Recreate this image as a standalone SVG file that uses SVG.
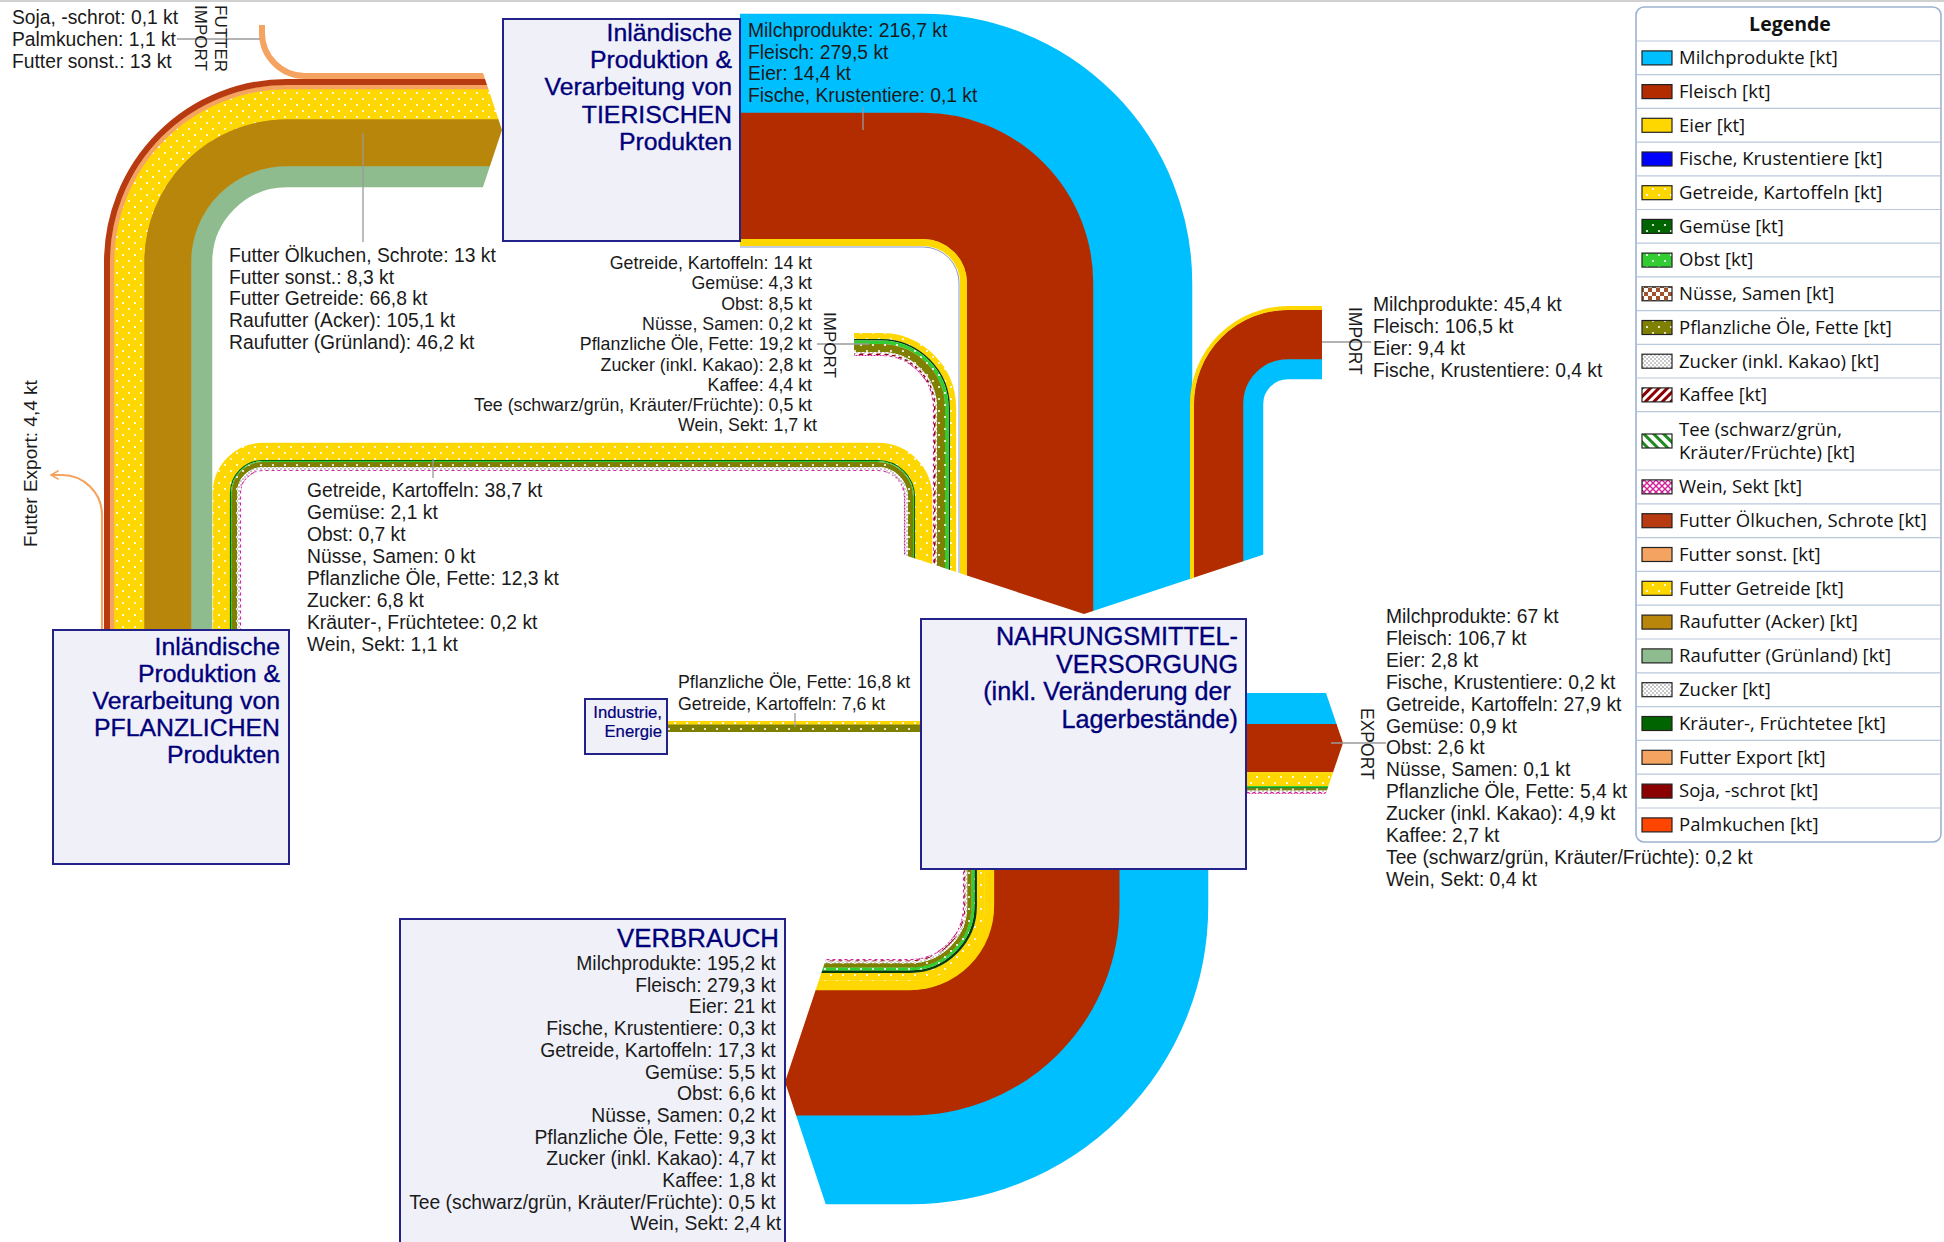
<svg xmlns="http://www.w3.org/2000/svg" width="1944" height="1242" viewBox="0 0 1944 1242">
<defs>
<style>
.lbl{font-family:"Liberation Sans",Arial,sans-serif;font-size:19.3px;fill:#1a1a1a}
.lbs{font-family:"Liberation Sans",Arial,sans-serif;font-size:17.8px;fill:#1a1a1a}
.ttl{font-family:"Liberation Sans",Arial,sans-serif;font-size:24.8px;fill:#00007a;stroke:#00007a;stroke-width:0.35}
.node{fill:#F0F0F8;stroke:#22228a;stroke-width:2}
.lead{stroke:#9a9a9a;stroke-width:1.3;fill:none}
.b{fill:none;stroke-linecap:butt}
.leg{font-family:"Open Sans","Noto Sans",sans-serif;font-size:18.5px;fill:#111}
.sw{stroke:#222;stroke-width:1.2}
.div{stroke:#b9c8dc;stroke-width:1.2}
</style>
<pattern id="pGetreide" width="12" height="12" patternUnits="userSpaceOnUse"><rect width="12" height="12" fill="#FFD700"/><circle cx="3" cy="3" r="1.1" fill="#fff"/><circle cx="9" cy="9" r="1.1" fill="#fff"/></pattern>
<pattern id="pOel" width="12" height="12" patternUnits="userSpaceOnUse"><rect width="12" height="12" fill="#808000"/><circle cx="3" cy="3" r="1.1" fill="#fff"/><circle cx="9" cy="9" r="1.1" fill="#fff"/></pattern>
<pattern id="pGemuese" width="12" height="12" patternUnits="userSpaceOnUse"><rect width="12" height="12" fill="#006400"/><circle cx="3" cy="3" r="1.1" fill="#fff"/><circle cx="9" cy="9" r="1.1" fill="#fff"/></pattern>
<pattern id="pObst" width="12" height="12" patternUnits="userSpaceOnUse"><rect width="12" height="12" fill="#32CD32"/><circle cx="3" cy="3" r="1.1" fill="#fff"/><circle cx="9" cy="9" r="1.1" fill="#fff"/></pattern>
<pattern id="pZucker" width="4" height="4" patternUnits="userSpaceOnUse"><rect width="4" height="4" fill="#fff"/><rect width="2" height="2" fill="#c8c8c8"/><rect x="2" y="2" width="2" height="2" fill="#c8c8c8"/></pattern>
<pattern id="pKaffee" width="6" height="6" patternUnits="userSpaceOnUse" patternTransform="rotate(45)"><rect width="6" height="6" fill="#fff"/><rect width="3" height="6" fill="#8B0000"/></pattern>
<pattern id="pTee" width="7" height="7" patternUnits="userSpaceOnUse" patternTransform="rotate(-45)"><rect width="7" height="7" fill="#fff"/><rect width="3" height="7" fill="#1E8B1E"/></pattern>
<pattern id="pWein" width="6" height="6" patternUnits="userSpaceOnUse"><rect width="6" height="6" fill="#fff"/><path d="M0 0L6 6M6 0L0 6" stroke="#D0209A" stroke-width="1.4"/></pattern>
<pattern id="pNuesse" width="8" height="8" patternUnits="userSpaceOnUse"><rect width="8" height="8" fill="#fff"/><rect width="4" height="4" fill="#A0522D"/><rect x="4" y="4" width="4" height="4" fill="#A0522D"/></pattern>
<clipPath id="cNahr"><polygon points="0,0 1944,0 1944,514 1386,514 1084,614 880,547 880,640 0,640"/></clipPath>
<clipPath id="cVerb"><polygon points="859,860 1300,860 1300,1242 838.3,1242 785,1082"/></clipPath>
<clipPath id="cFeed"><polygon points="0,0 458.7,0 502,130 445.3,300 445.3,700 0,700"/></clipPath>
<clipPath id="cExp"><polygon points="1240,680 1321.6,680 1343,743 1321.6,806 1240,806"/></clipPath>
<marker id="arrOpen" viewBox="0 0 10 10" refX="8" refY="5" markerWidth="5" markerHeight="5" orient="auto" markerUnits="strokeWidth"><path d="M1 1L8 5L1 9" fill="none" stroke="#F4A460" stroke-width="1.5"/></marker>
</defs>

<line x1="0" y1="1" x2="1944" y2="1" stroke="#d0d0d0" stroke-width="2"/>

<g id="connectors">
  <g clip-path="url(#cFeed)">
    <path class="b" d="M201.5 630V262A85.5 85.5 0 0 1 287 176.5H520" stroke="#8FBC8F" stroke-width="21.5"/>
    <path class="b" d="M167.5 630V262A119.5 119.5 0 0 1 287 142.5H520" stroke="#B8860B" stroke-width="47.5"/>
    <path class="b" d="M129 630V262A158 158 0 0 1 287 104H520" stroke="url(#pGetreide)" stroke-width="30.5"/>
    <path class="b" d="M112 630V262A175 175 0 0 1 287 87H520" stroke="#F4A460" stroke-width="4.5"/>
    <path class="b" d="M107 630V262A180 180 0 0 1 287 82H520" stroke="#B83A10" stroke-width="6"/>
    <path class="b" d="M262 25V33A43 43 0 0 0 305 76H520" stroke="#F4A460" stroke-width="6"/>
  </g>
  <path d="M102 630V515A40 40 0 0 0 62 475H51" fill="none" stroke="#F4A460" stroke-width="2.2" marker-end="url(#arrOpen)"/>

  <g clip-path="url(#cNahr)">
    <path class="b" d="M221.5 630V493A41.5 41.5 0 0 1 263 451.5H878A45.5 45.5 0 0 1 923.5 497V640" stroke="url(#pGetreide)" stroke-width="17.5"/>
    <path class="b" d="M230.5 630V493A32.5 32.5 0 0 1 263 460.5H878A36.5 36.5 0 0 1 914.5 497V640" stroke="#006400" stroke-width="1.2"/>
    <path class="b" d="M231.5 630V493A31.5 31.5 0 0 1 263 461.5H878A35.5 35.5 0 0 1 913.5 497V640" stroke="#32CD32" stroke-width="1"/>
    <path class="b" d="M234.5 630V493A28.5 28.5 0 0 1 263 464.5H878A32.5 32.5 0 0 1 910.5 497V640" stroke="url(#pOel)" stroke-width="5.2"/>
    <path class="b" d="M238.5 630V493A24.5 24.5 0 0 1 263 468.5H878A28.5 28.5 0 0 1 906.5 497V640" stroke="url(#pZucker)" stroke-width="3"/>
    <path class="b" d="M240.5 630V493A22.5 22.5 0 0 1 263 470.5H878A26.5 26.5 0 0 1 904.5 497V640" stroke="url(#pWein)" stroke-width="1.2"/>
    <path class="b" d="M854 336H881A72 72 0 0 1 953 408V640" stroke="url(#pGetreide)" stroke-width="6.2"/>
    <path class="b" d="M854 339.75H881A68.25 68.25 0 0 1 949.25 408V640" stroke="#0a3a0a" stroke-width="1.5"/>
    <path class="b" d="M854 342.25H881A65.75 65.75 0 0 1 946.75 408V640" stroke="url(#pObst)" stroke-width="3.6"/>
    <path class="b" d="M854 348H881A60 60 0 0 1 941 408V640" stroke="url(#pOel)" stroke-width="8.2"/>
    <path class="b" d="M854 352.75H881A55.25 55.25 0 0 1 936.25 408V640" stroke="url(#pZucker)" stroke-width="1.6"/>
    <path class="b" d="M854 354.25H881A53.75 53.75 0 0 1 934.75 408V640" stroke="url(#pKaffee)" stroke-width="1.6"/>
    <path class="b" d="M854 355.5H881A52.5 52.5 0 0 1 933.5 408V640" stroke="url(#pWein)" stroke-width="1.2"/>
    <path class="b" d="M740 63.5H923A219.5 219.5 0 0 1 1142.5 283V640" stroke="#00BFFF" stroke-width="99.5"/>
    <path class="b" d="M740 176H923A107 107 0 0 1 1030 283V640" stroke="#B22C00" stroke-width="126.5"/>
    <path class="b" d="M740 242.5H923A40.5 40.5 0 0 1 963.5 283V640" stroke="#FFD700" stroke-width="7"/>
    <path class="b" d="M740 247H923A36 36 0 0 1 959 283V640" stroke="#8a9ac8" stroke-width="1"/>
    <path class="b" d="M1322 369H1288A35 35 0 0 0 1253 404V640" stroke="#00BFFF" stroke-width="20.5"/>
    <path class="b" d="M1322 334.5H1288A69.5 69.5 0 0 0 1218.5 404V640" stroke="#B22C00" stroke-width="49.5"/>
    <path class="b" d="M1322 308H1288A96 96 0 0 0 1192 404V640" stroke="#FFD700" stroke-width="4"/>
  </g>

  <rect x="667" y="721" width="254" height="3.8" fill="url(#pGetreide)"/>
  <rect x="667" y="724.5" width="254" height="7.5" fill="url(#pOel)"/>

  <g clip-path="url(#cExp)">
    <rect x="1246" y="693" width="110" height="31.5" fill="#00BFFF"/>
    <rect x="1246" y="724" width="110" height="48.5" fill="#B22C00"/>
    <rect x="1246" y="772" width="110" height="1.8" fill="#FFD700"/>
    <rect x="1246" y="773.5" width="110" height="12.8" fill="url(#pGetreide)"/>
    <rect x="1246" y="786" width="110" height="2.6" fill="#32CD32"/>
    <rect x="1246" y="787.6" width="110" height="0.9" fill="#0a3a0a"/>
    <rect x="1246" y="788.5" width="110" height="2.2" fill="url(#pOel)"/>
    <rect x="1246" y="790.5" width="110" height="1.7" fill="url(#pZucker)"/>
    <rect x="1246" y="792" width="110" height="1.8" fill="url(#pWein)"/>
  </g>

  <g clip-path="url(#cVerb)">
    <path class="b" d="M1163.5 869V906A253.5 253.5 0 0 1 910 1159.5H770" stroke="#00BFFF" stroke-width="89.5"/>
    <path class="b" d="M1056.5 869V906A146.5 146.5 0 0 1 910 1052.5H770" stroke="#B22C00" stroke-width="126"/>
    <path class="b" d="M989.35 869V906A79.35 79.35 0 0 1 910 985.35H770" stroke="#FFD700" stroke-width="9.6"/>
    <path class="b" d="M980.8 869V906A70.8 70.8 0 0 1 910 976.8H770" stroke="url(#pGetreide)" stroke-width="8"/>
    <path class="b" d="M975.65 869V906A65.65 65.65 0 0 1 910 971.65H770" stroke="#0a3a0a" stroke-width="2.6"/>
    <path class="b" d="M972.9 869V906A62.9 62.9 0 0 1 910 968.9H770" stroke="url(#pObst)" stroke-width="3.2"/>
    <path class="b" d="M969.3 869V906A59.3 59.3 0 0 1 910 965.3H770" stroke="url(#pOel)" stroke-width="4.4"/>
    <path class="b" d="M966.2 869V906A56.2 56.2 0 0 1 910 962.2H770" stroke="url(#pZucker)" stroke-width="2.1"/>
    <path class="b" d="M964.7 869V906A54.7 54.7 0 0 1 910 960.7H770" stroke="url(#pKaffee)" stroke-width="1.1"/>
    <path class="b" d="M963.6 869V906A53.6 53.6 0 0 1 910 959.6H770" stroke="url(#pWein)" stroke-width="1.3"/>
  </g>

  <g id="leaders">
    <line class="lead" x1="177" y1="39" x2="260" y2="39"/>
    <line class="lead" x1="363" y1="133" x2="363" y2="242"/>
    <line class="lead" x1="863" y1="107" x2="863" y2="130"/>
    <line class="lead" x1="817" y1="344" x2="869" y2="344"/>
    <line class="lead" x1="1322" y1="342" x2="1371" y2="342"/>
    <line class="lead" x1="433" y1="459" x2="433" y2="478"/>
    <line class="lead" x1="795" y1="713" x2="795" y2="727"/>
    <line class="lead" x1="1331" y1="743" x2="1386" y2="743"/>
  </g>
</g>

<g id="node-tierisch">
  <rect class="node" x="503" y="19" width="237" height="222"/>
  <text class="ttl" text-anchor="end"><tspan x="732" y="41">Inländische</tspan><tspan x="732" y="68.2">Produktion &amp;</tspan><tspan x="732" y="95.4">Verarbeitung von</tspan><tspan x="732" y="122.6">TIERISCHEN</tspan><tspan x="732" y="149.8">Produkten</tspan></text>
</g>
<g id="node-pflanzlich">
  <rect class="node" x="53" y="630" width="236" height="234"/>
  <text class="ttl" text-anchor="end"><tspan x="280" y="655">Inländische</tspan><tspan x="280" y="682">Produktion &amp;</tspan><tspan x="280" y="709">Verarbeitung von</tspan><tspan x="280" y="736">PFLANZLICHEN</tspan><tspan x="280" y="763">Produkten</tspan></text>
</g>
<g id="node-nahrung">
  <rect class="node" x="921" y="619" width="325" height="250"/>
  <text class="ttl" style="font-size:25.2px" text-anchor="end"><tspan x="1238" y="645">NAHRUNGSMITTEL-</tspan><tspan x="1238" y="672.5">VERSORGUNG</tspan><tspan x="1231" y="700">(inkl. Veränderung der</tspan><tspan x="1238" y="727.5">Lagerbestände)</tspan></text>
</g>
<g id="node-industrie">
  <rect class="node" x="585" y="699" width="82" height="55"/>
  <text class="ttl" style="font-size:16.7px;stroke-width:0.2" text-anchor="end"><tspan x="662" y="718">Industrie,</tspan><tspan x="662" y="737">Energie</tspan></text>
</g>
<g id="node-verbrauch">
  <rect class="node" x="400" y="919" width="385" height="340"/>
  <text class="ttl" style="font-size:25.8px" x="779" y="947" text-anchor="end">VERBRAUCH</text>
  <text class="lbl" text-anchor="end">
    <tspan x="781" y="970">Milchprodukte: 195,2 kt</tspan>
    <tspan x="781" y="991.7">Fleisch: 279,3 kt</tspan>
    <tspan x="781" y="1013.4">Eier: 21 kt</tspan>
    <tspan x="781" y="1035.1">Fische, Krustentiere: 0,3 kt</tspan>
    <tspan x="781" y="1056.8">Getreide, Kartoffeln: 17,3 kt</tspan>
    <tspan x="781" y="1078.5">Gemüse: 5,5 kt</tspan>
    <tspan x="781" y="1100.2">Obst: 6,6 kt</tspan>
    <tspan x="781" y="1121.9">Nüsse, Samen: 0,2 kt</tspan>
    <tspan x="781" y="1143.6">Pflanzliche Öle, Fette: 9,3 kt</tspan>
    <tspan x="781" y="1165.3">Zucker (inkl. Kakao): 4,7 kt</tspan>
    <tspan x="781" y="1187">Kaffee: 1,8 kt</tspan>
    <tspan x="781" y="1208.7">Tee (schwarz/grün, Kräuter/Früchte): 0,5 kt</tspan>
    <tspan x="781" y="1230.4">Wein, Sekt: 2,4 kt</tspan>
  </text>
</g>

<g id="labels">
  <text class="lbl"><tspan x="12" y="24">Soja, -schrot: 0,1 kt</tspan><tspan x="12" y="46">Palmkuchen: 1,1 kt</tspan><tspan x="12" y="67.5">Futter sonst.: 13 kt</tspan></text>
  <text class="lbs" style="font-size:17px" transform="translate(215,5) rotate(90)">FUTTER</text>
  <text class="lbs" style="font-size:17px" transform="translate(195,5) rotate(90)">IMPORT</text>
  <text class="lbl"><tspan x="229" y="262">Futter Ölkuchen, Schrote: 13 kt</tspan><tspan x="229" y="283.7">Futter sonst.: 8,3 kt</tspan><tspan x="229" y="305.4">Futter Getreide: 66,8 kt</tspan><tspan x="229" y="327.1">Raufutter (Acker): 105,1 kt</tspan><tspan x="229" y="348.8">Raufutter (Grünland): 46,2 kt</tspan></text>
  <text class="lbl"><tspan x="748" y="37">Milchprodukte: 216,7 kt</tspan><tspan x="748" y="58.7">Fleisch: 279,5 kt</tspan><tspan x="748" y="80.4">Eier: 14,4 kt</tspan><tspan x="748" y="102.1">Fische, Krustentiere: 0,1 kt</tspan></text>
  <text class="lbs" text-anchor="end">
    <tspan x="817" y="269">Getreide, Kartoffeln: 14 kt</tspan>
    <tspan x="817" y="289.3">Gemüse: 4,3 kt</tspan>
    <tspan x="817" y="309.6">Obst: 8,5 kt</tspan>
    <tspan x="817" y="329.9">Nüsse, Samen: 0,2 kt</tspan>
    <tspan x="817" y="350.2">Pflanzliche Öle, Fette: 19,2 kt</tspan>
    <tspan x="817" y="370.5">Zucker (inkl. Kakao): 2,8 kt</tspan>
    <tspan x="817" y="390.8">Kaffee: 4,4 kt</tspan>
    <tspan x="817" y="411.1">Tee (schwarz/grün, Kräuter/Früchte): 0,5 kt</tspan>
    <tspan x="817" y="431.4">Wein, Sekt: 1,7 kt</tspan>
  </text>
  <text class="lbs" style="font-size:17px" transform="translate(824,312) rotate(90)">IMPORT</text>
  <text class="lbs" style="font-size:17.5px" transform="translate(1349,307) rotate(90)">IMPORT</text>
  <text class="lbl"><tspan x="1373" y="311">Milchprodukte: 45,4 kt</tspan><tspan x="1373" y="333">Fleisch: 106,5 kt</tspan><tspan x="1373" y="355">Eier: 9,4 kt</tspan><tspan x="1373" y="377">Fische, Krustentiere: 0,4 kt</tspan></text>
  <text class="lbl" style="font-size:19px" transform="translate(37,547) rotate(-90)">Futter Export: 4,4 kt</text>
  <text class="lbl">
    <tspan x="307" y="497">Getreide, Kartoffeln: 38,7 kt</tspan>
    <tspan x="307" y="519">Gemüse: 2,1 kt</tspan>
    <tspan x="307" y="541">Obst: 0,7 kt</tspan>
    <tspan x="307" y="563">Nüsse, Samen: 0 kt</tspan>
    <tspan x="307" y="585">Pflanzliche Öle, Fette: 12,3 kt</tspan>
    <tspan x="307" y="607">Zucker: 6,8 kt</tspan>
    <tspan x="307" y="629">Kräuter-, Früchtetee: 0,2 kt</tspan>
    <tspan x="307" y="651">Wein, Sekt: 1,1 kt</tspan>
  </text>
  <text class="lbs"><tspan x="678" y="688">Pflanzliche Öle, Fette: 16,8 kt</tspan><tspan x="678" y="710">Getreide, Kartoffeln: 7,6 kt</tspan></text>
  <text class="lbs" style="font-size:17.5px" transform="translate(1361,708) rotate(90)">EXPORT</text>
  <text class="lbl">
    <tspan x="1386" y="623">Milchprodukte: 67 kt</tspan>
    <tspan x="1386" y="644.9">Fleisch: 106,7 kt</tspan>
    <tspan x="1386" y="666.8">Eier: 2,8 kt</tspan>
    <tspan x="1386" y="688.7">Fische, Krustentiere: 0,2 kt</tspan>
    <tspan x="1386" y="710.6">Getreide, Kartoffeln: 27,9 kt</tspan>
    <tspan x="1386" y="732.5">Gemüse: 0,9 kt</tspan>
    <tspan x="1386" y="754.4">Obst: 2,6 kt</tspan>
    <tspan x="1386" y="776.3">Nüsse, Samen: 0,1 kt</tspan>
    <tspan x="1386" y="798.2">Pflanzliche Öle, Fette: 5,4 kt</tspan>
    <tspan x="1386" y="820.1">Zucker (inkl. Kakao): 4,9 kt</tspan>
    <tspan x="1386" y="842">Kaffee: 2,7 kt</tspan>
    <tspan x="1386" y="863.9">Tee (schwarz/grün, Kräuter/Früchte): 0,2 kt</tspan>
    <tspan x="1386" y="885.8">Wein, Sekt: 0,4 kt</tspan>
  </text>
</g>

<g id="legend">
  <rect x="1636" y="7" width="305" height="835" rx="8" fill="#fff" stroke="#9DB2CF" stroke-width="1.6"/>
  <text class="leg" x="1790" y="31" text-anchor="middle" font-weight="bold" style="font-size:19.5px">Legende</text>
  <g>
    <line class="div" x1="1637" y1="41" x2="1940" y2="41"/>
    <line class="div" x1="1637" y1="74.7" x2="1940" y2="74.7"/>
    <line class="div" x1="1637" y1="108.4" x2="1940" y2="108.4"/>
    <line class="div" x1="1637" y1="142.1" x2="1940" y2="142.1"/>
    <line class="div" x1="1637" y1="175.8" x2="1940" y2="175.8"/>
    <line class="div" x1="1637" y1="209.5" x2="1940" y2="209.5"/>
    <line class="div" x1="1637" y1="243.2" x2="1940" y2="243.2"/>
    <line class="div" x1="1637" y1="276.9" x2="1940" y2="276.9"/>
    <line class="div" x1="1637" y1="310.6" x2="1940" y2="310.6"/>
    <line class="div" x1="1637" y1="344.3" x2="1940" y2="344.3"/>
    <line class="div" x1="1637" y1="378" x2="1940" y2="378"/>
    <line class="div" x1="1637" y1="411.7" x2="1940" y2="411.7"/>
    <line class="div" x1="1637" y1="470" x2="1940" y2="470"/>
    <line class="div" x1="1637" y1="503.8" x2="1940" y2="503.8"/>
    <line class="div" x1="1637" y1="537.6" x2="1940" y2="537.6"/>
    <line class="div" x1="1637" y1="571.4" x2="1940" y2="571.4"/>
    <line class="div" x1="1637" y1="605.2" x2="1940" y2="605.2"/>
    <line class="div" x1="1637" y1="639" x2="1940" y2="639"/>
    <line class="div" x1="1637" y1="672.8" x2="1940" y2="672.8"/>
    <line class="div" x1="1637" y1="706.6" x2="1940" y2="706.6"/>
    <line class="div" x1="1637" y1="740.4" x2="1940" y2="740.4"/>
    <line class="div" x1="1637" y1="774.2" x2="1940" y2="774.2"/>
    <line class="div" x1="1637" y1="808" x2="1940" y2="808"/>
  </g>
  <rect class="sw" x="1642" y="50.9" width="30" height="14" fill="#00BFFF"/><text class="leg" x="1679" y="64.2">Milchprodukte [kt]</text>
  <rect class="sw" x="1642" y="84.6" width="30" height="14" fill="#B22C00"/><text class="leg" x="1679" y="97.9">Fleisch [kt]</text>
  <rect class="sw" x="1642" y="118.3" width="30" height="14" fill="#FFD700"/><text class="leg" x="1679" y="131.6">Eier [kt]</text>
  <rect class="sw" x="1642" y="152" width="30" height="14" fill="#0000FF"/><text class="leg" x="1679" y="165.3">Fische, Krustentiere [kt]</text>
  <rect class="sw" x="1642" y="185.7" width="30" height="14" fill="url(#pGetreide)"/><text class="leg" x="1679" y="199">Getreide, Kartoffeln [kt]</text>
  <rect class="sw" x="1642" y="219.4" width="30" height="14" fill="url(#pGemuese)"/><text class="leg" x="1679" y="232.7">Gemüse [kt]</text>
  <rect class="sw" x="1642" y="253.1" width="30" height="14" fill="url(#pObst)"/><text class="leg" x="1679" y="266.4">Obst [kt]</text>
  <rect class="sw" x="1642" y="286.8" width="30" height="14" fill="url(#pNuesse)"/><text class="leg" x="1679" y="300.1">Nüsse, Samen [kt]</text>
  <rect class="sw" x="1642" y="320.5" width="30" height="14" fill="url(#pOel)"/><text class="leg" x="1679" y="333.8">Pflanzliche Öle, Fette [kt]</text>
  <rect class="sw" x="1642" y="354.2" width="30" height="14" fill="url(#pZucker)"/><text class="leg" x="1679" y="367.5">Zucker (inkl. Kakao) [kt]</text>
  <rect class="sw" x="1642" y="387.9" width="30" height="14" fill="url(#pKaffee)"/><text class="leg" x="1679" y="401.2">Kaffee [kt]</text>
  <rect class="sw" x="1642" y="434" width="30" height="14" fill="url(#pTee)"/><text class="leg"><tspan x="1679" y="436">Tee (schwarz/grün,</tspan><tspan x="1679" y="459">Kräuter/Früchte) [kt]</tspan></text>
  <rect class="sw" x="1642" y="479.9" width="30" height="14" fill="url(#pWein)"/><text class="leg" x="1679" y="493.2">Wein, Sekt [kt]</text>
  <rect class="sw" x="1642" y="513.7" width="30" height="14" fill="#B83A10"/><text class="leg" x="1679" y="527">Futter Ölkuchen, Schrote [kt]</text>
  <rect class="sw" x="1642" y="547.5" width="30" height="14" fill="#F4A460"/><text class="leg" x="1679" y="560.8">Futter sonst. [kt]</text>
  <rect class="sw" x="1642" y="581.3" width="30" height="14" fill="url(#pGetreide)"/><text class="leg" x="1679" y="594.6">Futter Getreide [kt]</text>
  <rect class="sw" x="1642" y="615.1" width="30" height="14" fill="#B8860B"/><text class="leg" x="1679" y="628.4">Raufutter (Acker) [kt]</text>
  <rect class="sw" x="1642" y="648.9" width="30" height="14" fill="#8FBC8F"/><text class="leg" x="1679" y="662.2">Raufutter (Grünland) [kt]</text>
  <rect class="sw" x="1642" y="682.7" width="30" height="14" fill="url(#pZucker)"/><text class="leg" x="1679" y="696">Zucker [kt]</text>
  <rect class="sw" x="1642" y="716.5" width="30" height="14" fill="#006400"/><text class="leg" x="1679" y="729.8">Kräuter-, Früchtetee [kt]</text>
  <rect class="sw" x="1642" y="750.3" width="30" height="14" fill="#F4A460"/><text class="leg" x="1679" y="763.6">Futter Export [kt]</text>
  <rect class="sw" x="1642" y="784.1" width="30" height="14" fill="#8B0000"/><text class="leg" x="1679" y="797.4">Soja, -schrot [kt]</text>
  <rect class="sw" x="1642" y="817.9" width="30" height="14" fill="#FF4500"/><text class="leg" x="1679" y="831.2">Palmkuchen [kt]</text>
</g>
</svg>
